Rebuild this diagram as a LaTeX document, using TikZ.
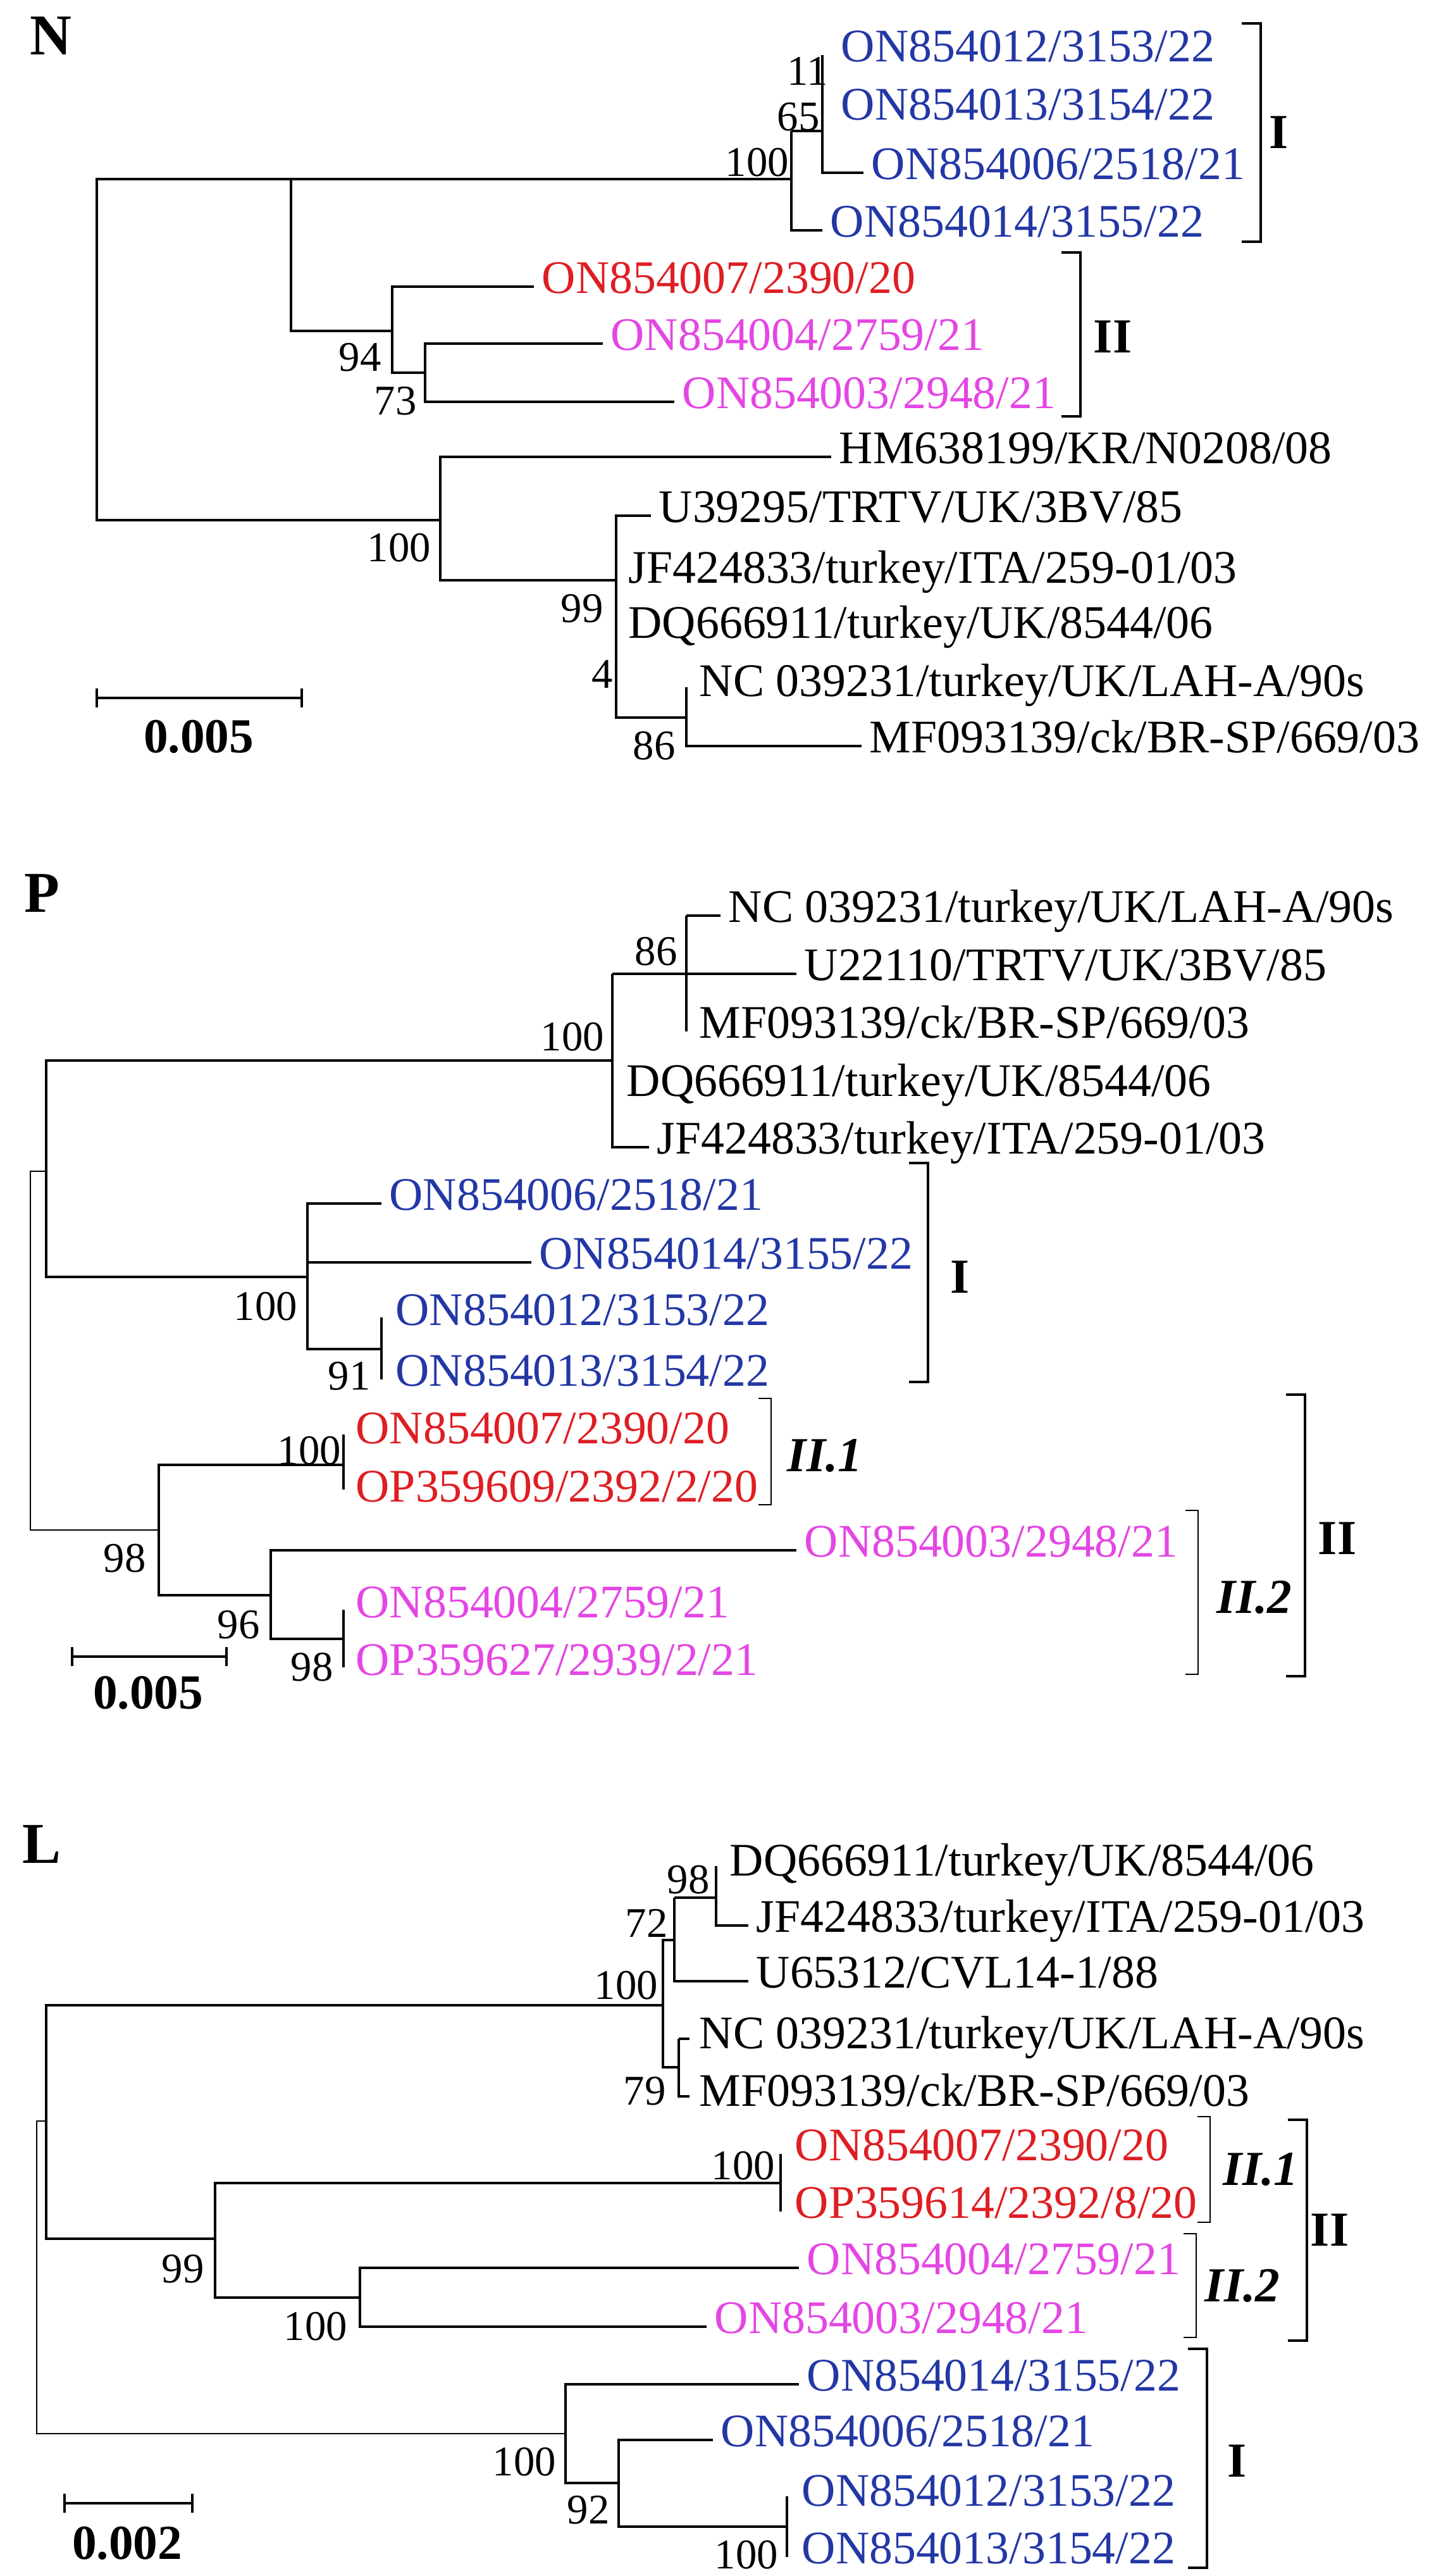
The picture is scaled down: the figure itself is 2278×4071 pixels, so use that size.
\documentclass[tikz,border=0pt]{standalone}
\usepackage{fontspec}
\setmainfont{Liberation Serif}
\definecolor{cI}{RGB}{35,55,165}
\definecolor{cR}{RGB}{222,30,35}
\definecolor{cM}{RGB}{228,70,228}
\begin{document}
\begin{tikzpicture}[x=0.1mm,y=-0.1mm,
  br/.style={line width=1.3pt},
  thin/.style={line width=0.6pt},
  tip/.style={anchor=base west,inner sep=0pt,xshift=1.2mm,yshift=-1mm,font=\fontsize{21}{21}\selectfont},
  bs/.style={inner sep=0pt,font=\fontsize{19}{19}\selectfont},
  cl/.style={inner sep=0pt,font=\fontsize{22}{22}\selectfont\bfseries},
  cli/.style={inner sep=0pt,font=\fontsize{22}{22}\selectfont\bfseries\itshape},
  pl/.style={inner sep=0pt,font=\fontsize{26}{26}\selectfont\bfseries}]
\useasboundingbox (0,0) rectangle (2278,4071);
% ================= N =================
\node[pl] (pN) at (80,57) {N};
\draw[br] (460,283) -| (153,822) -- (696,822);
\draw[br] (1251,283) -| (460,523) -- (620,523);
% clade I
\draw[br] (1251,283) -- (1251,364) -- (1300,364);
\draw[br] (1251,207) -- (1251,283);
\draw[br] (1251,207) -- (1300,207);
\draw[br] (1300,87) -- (1300,273) -- (1365,273);
\node[tip,text=cI] (n1) at (1317,87) {ON854012/3153/22};
\node[tip,text=cI] (n2) at (1317,179) {ON854013/3154/22};
\node[tip,text=cI] (n3) at (1365,273) {ON854006/2518/21};
\node[tip,text=cI] (n4) at (1300,364) {ON854014/3155/22};
\node[bs] (b1) at (1277,112) {11};
\node[bs] (b2) at (1262,185) {65};
\node[bs] (b3) at (1197,257) {100};
\draw[br] (1963,37) -- (1993,37) -- (1993,382) -- (1963,382);
\node[cl] (cI1) at (2022,209) {I};
% clade II
\draw[br] (844,453) -| (620,589) -- (672,589);
\draw[br] (953,543) -| (672,635) -- (1066,635);
\node[tip,text=cR] (n5) at (844,453) {ON854007/2390/20};
\node[tip,text=cM] (n6) at (953,543) {ON854004/2759/21};
\node[tip,text=cM] (n7) at (1066,635) {ON854003/2948/21};
\node[bs] (b4) at (569,565) {94};
\node[bs] (b5) at (625,634) {73};
\draw[br] (1678,399) -- (1708,399) -- (1708,658) -- (1678,658);
\node[cl] (cII1) at (1759,532) {II};
% outgroup
\draw[br] (1314,722) -| (696,917) -- (974,917);
\node[tip] (n8) at (1314,722) {HM638199/KR/N0208/08};
\node[bs] (b6) at (631,866) {100};
\draw[br] (1029,815) -| (974,1134) -- (1085,1134);
\node[tip] (n9) at (1029,815) {U39295/TRTV/UK/3BV/85};
\node[tip] (n10) at (981,911) {JF424833/turkey/ITA/259-01/03};
\node[tip] (n11) at (981,998) {DQ666911/turkey/UK/8544/06};
\node[bs] (b7) at (920,962) {99};
\node[bs] (b8) at (952,1066) {4};
\draw[br] (1085,1086) -- (1085,1179) -- (1362,1179);
\node[tip] (n12) at (1093,1090) {NC 039231/turkey/UK/LAH-A/90s};
\node[tip] (n13) at (1362,1179) {MF093139/ck/BR-SP/669/03};
\node[bs] (b9) at (1034,1179) {86};
\draw[br] (153,1088) -- (153,1118) (153,1103) -- (477,1103) (477,1088) -- (477,1118);
\node[cl] (s1) at (314,1164) {0.005};
% ================= P =================
\node[pl] (pP) at (66,1412) {P};
\draw[thin] (73,1851) -| (48,2418) -- (251,2418);
\draw[br] (968,1676) -| (73,2018) -- (486,2018);
\draw[br] (968,1539) -- (968,1813) -- (1026,1813);
\draw[br] (968,1539) -- (1259,1539);
\draw[br] (1085,1447) -- (1085,1630);
\draw[br] (1085,1447) -- (1139,1447);
\node[tip] (p1) at (1139,1447) {NC 039231/turkey/UK/LAH-A/90s};
\node[tip] (p2) at (1259,1539) {U22110/TRTV/UK/3BV/85};
\node[tip] (p3) at (1093,1630) {MF093139/ck/BR-SP/669/03};
\node[tip] (p4) at (978,1722) {DQ666911/turkey/UK/8544/06};
\node[tip] (p5) at (1026,1813) {JF424833/turkey/ITA/259-01/03};
\node[bs] (pb1) at (1037,1504) {86};
\node[bs] (pb2) at (905,1639) {100};
% clade I
\draw[br] (603,1902) -| (486,2132) -- (603,2132);
\draw[br] (486,1995) -- (840,1995);
\draw[br] (603,2082) -- (603,2180);
\node[tip,text=cI] (p6) at (603,1902) {ON854006/2518/21};
\node[tip,text=cI] (p7) at (840,1995) {ON854014/3155/22};
\node[tip,text=cI] (p8) at (613,2084) {ON854012/3153/22};
\node[tip,text=cI] (p9) at (613,2180) {ON854013/3154/22};
\node[bs] (pb3) at (420,2065) {100};
\node[bs] (pb4) at (552,2175) {91};
\draw[br] (1437,1838) -- (1467,1838) -- (1467,2184) -- (1437,2184);
\node[cl] (pcI) at (1518,2018) {I};
% clade II
\draw[br] (543,2315) -| (251,2521) -- (428,2521);
\draw[br] (543,2267) -- (543,2354);
\node[tip,text=cR] (p10) at (550,2271) {ON854007/2390/20};
\node[tip,text=cR] (p11) at (550,2363) {OP359609/2392/2/20};
\node[bs] (pb5) at (489,2293) {100};
\node[bs] (pb6) at (197,2463) {98};
\draw[br] (1259,2450) -| (428,2590) -- (543,2590);
\draw[br] (543,2544) -- (543,2635);
\node[tip,text=cM] (p12) at (1259,2450) {ON854003/2948/21};
\node[tip,text=cM] (p13) at (550,2546) {ON854004/2759/21};
\node[tip,text=cM] (p14) at (550,2637) {OP359627/2939/2/21};
\node[bs] (pb7) at (377,2568) {96};
\node[bs] (pb8) at (493,2635) {98};
\draw[thin] (1199,2210) -- (1219,2210) -- (1219,2378) -- (1199,2378);
\node[cli] (pII1) at (1304,2300) {II.1};
\draw[thin] (1874,2387) -- (1894,2387) -- (1894,2646) -- (1874,2646);
\node[cli] (pII2) at (1983,2524) {II.2};
\draw[br] (2033,2204) -- (2063,2204) -- (2063,2649) -- (2033,2649);
\node[cl] (pII) at (2114,2431) {II};
\draw[br] (114,2603) -- (114,2633) (114,2618) -- (358,2618) (358,2603) -- (358,2633);
\node[cl] (s2) at (234,2675) {0.005};
% ================= L =================
\node[pl] (pL) at (66,2915) {L};
\draw[thin] (73,3352) -| (58,3846) -- (894,3846);
\draw[br] (1048,3169) -| (73,3538) -- (340,3538);
\draw[br] (1066,3066) -| (1048,3267) -- (1073,3267);
\draw[br] (1066,2999) -- (1066,3131) -- (1183,3131);
\draw[br] (1066,2999) -- (1132,2999);
\draw[br] (1132,2949) -- (1132,3043) -- (1183,3043);
\draw[br] (1073,3222) -- (1073,3313) -- (1090,3313);
\draw[br] (1073,3222) -- (1090,3222);
\node[tip] (l1) at (1141,2954) {DQ666911/turkey/UK/8544/06};
\node[tip] (l2) at (1183,3043) {JF424833/turkey/ITA/259-01/03};
\node[tip] (l3) at (1183,3131) {U65312/CVL14-1/88};
\node[tip] (l4) at (1093,3227) {NC 039231/turkey/UK/LAH-A/90s};
\node[tip] (l5) at (1093,3318) {MF093139/ck/BR-SP/669/03};
\node[bs] (lb1) at (1088,2971) {98};
\node[bs] (lb2) at (1022,3039) {72};
\node[bs] (lb3) at (990,3138) {100};
\node[bs] (lb4) at (1019,3305) {79};
% clade II
\draw[br] (1234,3450) -| (340,3631) -- (569,3631);
\draw[br] (1234,3404) -- (1234,3495);
\node[tip,text=cR] (l6) at (1244,3404) {ON854007/2390/20};
\node[tip,text=cR] (l7) at (1244,3495) {OP359614/2392/8/20};
\node[bs] (lb5) at (1175,3423) {100};
\node[bs] (lb6) at (289,3586) {99};
\draw[br] (1263,3584) -| (569,3677) -- (1117,3677);
\node[tip,text=cM] (l8) at (1263,3584) {ON854004/2759/21};
\node[tip,text=cM] (l9) at (1117,3677) {ON854003/2948/21};
\node[bs] (lb7) at (499,3677) {100};
\draw[thin] (1893,3345) -- (1913,3345) -- (1913,3512) -- (1893,3512);
\node[cli] (lII1) at (1993,3428) {II.1};
\draw[thin] (1871,3530) -- (1891,3530) -- (1891,3694) -- (1871,3694);
\node[cli] (lII2) at (1964,3612) {II.2};
\draw[br] (2036,3350) -- (2066,3350) -- (2066,3699) -- (2036,3699);
\node[cl] (lII) at (2102,3524) {II};
% clade I
\draw[br] (1263,3768) -| (894,3924) -- (978,3924);
\draw[br] (1127,3856) -| (978,3993) -- (1244,3993);
\draw[br] (1244,3945) -- (1244,4041);
\node[tip,text=cI] (l10) at (1263,3768) {ON854014/3155/22};
\node[tip,text=cI] (l11) at (1127,3856) {ON854006/2518/21};
\node[tip,text=cI] (l12) at (1255,3950) {ON854012/3153/22};
\node[tip,text=cI] (l13) at (1255,4041) {ON854013/3154/22};
\node[bs] (lb8) at (829,3891) {100};
\node[bs] (lb9) at (930,3967) {92};
\node[bs] (lb10) at (1180,4038) {100};
\draw[br] (1878,3712) -- (1908,3712) -- (1908,4058) -- (1878,4058);
\node[cl] (lcI) at (1956,3889) {I};
\draw[br] (102,3941) -- (102,3971) (102,3956) -- (304,3956) (304,3941) -- (304,3971);
\node[cl] (s3) at (201,4019) {0.002};
\end{tikzpicture}
\end{document}
